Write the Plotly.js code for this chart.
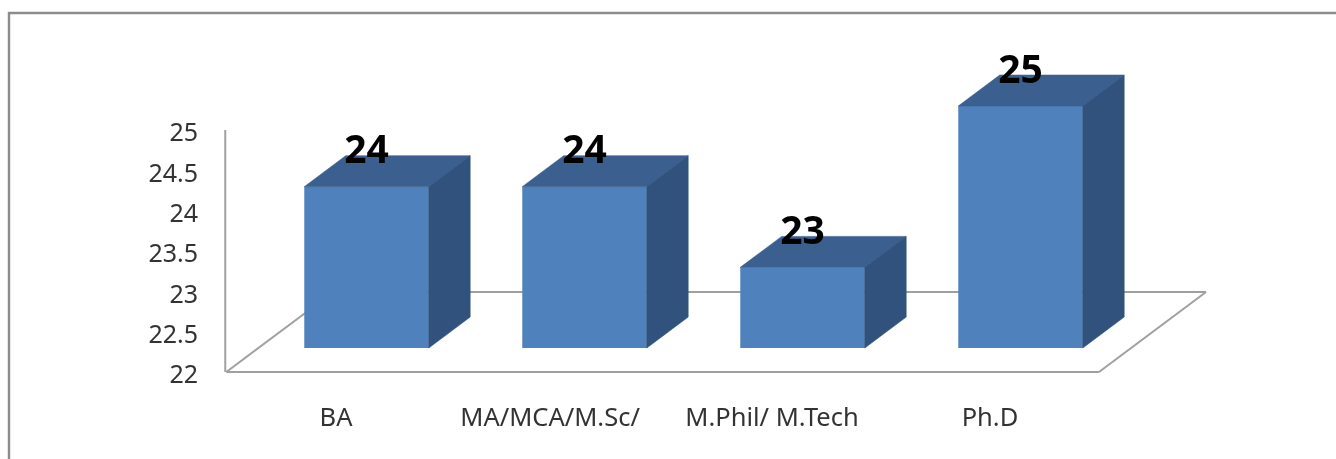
<!DOCTYPE html>
<html>
<head>
<meta charset="utf-8">
<script src="https://cdn.plot.ly/plotly-3.0.1.min.js"></script>
<style>html,body{margin:0;padding:0;background:#fff;overflow:hidden}#chart{width:1336px;height:459px;filter:blur(0.4px)}</style>
</head>
<body>
<div id="chart"></div>
<script>
const categories = ["BA", "MA/MCA/M.Sc/", "M.Phil/ M.Tech", "Ph.D"];
const values = [24, 24, 23, 25];
const xTickPositions = [0, 0.982, 2, 3];
const yTicks = [22, 22.5, 23, 23.5, 24, 24.5, 25];
const yTickLabels = ["22", "22.5", "23", "23.5", "24", "24.5", "25"];

const FRONT = "#4f81bd", TOP = "#3b6090", SIDE = "#30527c", AXIS = "#8c8c8c", FLOOR = "#a0a0a0", FONT = "'Noto Sans', sans-serif";
const yMin = 22;
const offX = 0.14, offY = 0.297, barW = 0.571, depX = 0.19, depY = 0.384, floorX = 0.491, floorY = 0.992, labelY = 0.41, yLabelNudge = 0.03;

const idx = categories.map((_, i) => i);
const topX = [], topY = [], sideX = [], sideY = [];
values.forEach((v, i) => {
  const l = i + offX - barW / 2, r = i + offX + barW / 2, t = v + offY, b = yMin + offY;
  topX.push(l, r, r + depX, l + depX, l, null);
  topY.push(t, t, t + depY, t + depY, t, null);
  sideX.push(r, r + depX, r + depX, r, r, null);
  sideY.push(t, t + depY, b + depY, b, t, null);
});

const traces = [
  {type: "scatter", mode: "lines", x: topX, y: topY, fill: "toself", fillcolor: TOP, line: {width: 0.6, color: TOP}, hoverinfo: "skip", showlegend: false},
  {type: "scatter", mode: "lines", x: sideX, y: sideY, fill: "toself", fillcolor: SIDE, line: {width: 0.6, color: SIDE}, hoverinfo: "skip", showlegend: false},
  {type: "bar", x: idx.map(i => i + offX), y: values.map(v => v - yMin), base: yMin + offY, width: barW,
   marker: {color: FRONT, line: {width: 0}}, hoverinfo: "skip", showlegend: false},
  {type: "scatter", mode: "text", x: idx.map(i => i + offX), y: values.map(v => v + offY + labelY), text: values.map(String),
   textposition: "middle center", textfont: {family: FONT, size: 39, color: "#000", weight: 700}, cliponaxis: false, hoverinfo: "skip", showlegend: false}
];

const xStart = -0.503, xEnd = categories.length - 0.5;
const floorLine = (x0, y0, x1, y1) => ({type: "line", layer: "below", xref: "x", yref: "y", x0, y0, x1, y1, line: {color: FLOOR, width: 2}});
const shapes = [
  floorLine(xStart - 0.005, yMin, xStart - 0.005, 25),
  floorLine(xStart, yMin, xEnd, yMin),
  floorLine(xEnd, yMin, xEnd + floorX, yMin + floorY),
  floorLine(xStart + floorX, yMin + floorY, xEnd + floorX, yMin + floorY),
  floorLine(xStart, yMin, xStart + floorX, yMin + floorY),
  {type: "rect", layer: "below", xref: "paper", yref: "paper", x0: (9 - 222) / 1008, x1: 1.2, y0: -0.4, y1: 1 + 36 / 347, line: {color: AXIS, width: 2.4}}
];

const layout = {
  width: 1336, height: 459,
  margin: {l: 222, r: 106, t: 49, b: 63, pad: 0},
  paper_bgcolor: "#fff", plot_bgcolor: "#fff",
  showlegend: false,
  xaxis: {range: [-0.5229, 4.1009], tickmode: "array", tickvals: xTickPositions, ticktext: categories, showgrid: false, zeroline: false, showline: false,
          ticks: "", ticklabelstandoff: 3, tickfont: {family: FONT, size: 25.5, color: "#333"}},
  yaxis: {range: [21.7025, 26.004], tickmode: "array", tickvals: yTicks.map(v => v - yLabelNudge), ticktext: yTickLabels, showgrid: false, zeroline: false, showline: false,
          ticks: "", ticklabelstandoff: 23, tickfont: {family: FONT, size: 25, color: "#333"}},
  shapes
};
Plotly.newPlot("chart", traces, layout, {staticPlot: true, displayModeBar: false});
</script>
</body>
</html>
